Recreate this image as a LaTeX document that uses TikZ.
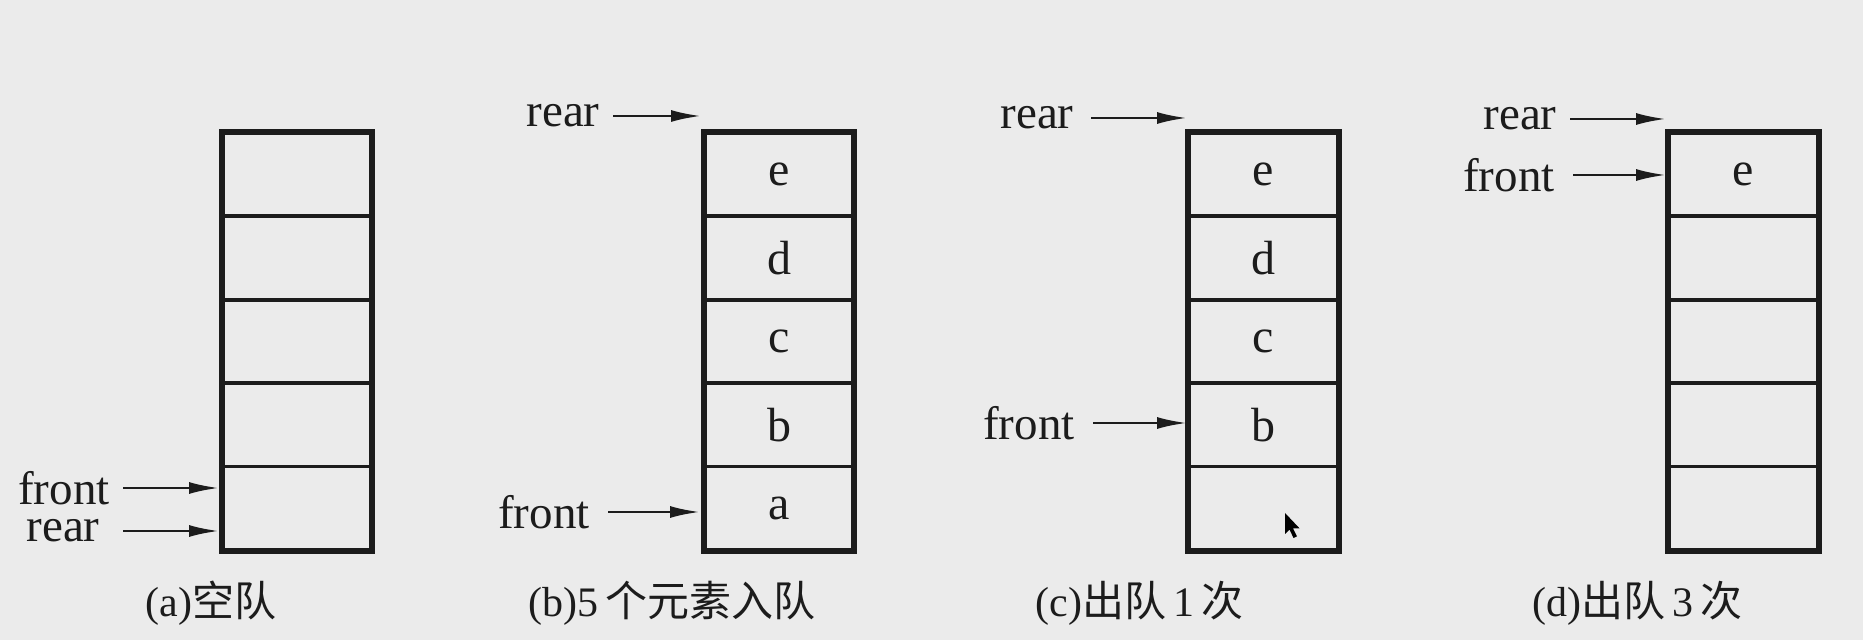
\documentclass[tikz,border=0pt]{standalone}
\usepackage{fontspec}
\setmainfont{Liberation Serif}
\newfontfamily\cjk{Noto Sans CJK SC}
\usetikzlibrary{arrows.meta}
\definecolor{bg}{RGB}{235,235,235}
\definecolor{ink}{RGB}{28,28,28}
\newcommand\qbox[7]{%
  \node[cell] (#1-1) at (#2,174.7) {#3};
  \node[cell] (#1-2) at (#2,258.1) {#4};
  \node[cell] (#1-3) at (#2,341.5) {#5};
  \node[cell] (#1-4) at (#2,424.9) {#6};
  \node[cell] (#1-5) at (#2,508.3) {#7};
  \draw[ink,line width=2.3pt] (#1-1.north west) rectangle (#1-5.south east);
}
\begin{document}
\begin{tikzpicture}[x=0.5pt,y=-0.5pt,
  cell/.style={draw=ink,line width=1.9pt,minimum width=74pt,minimum height=41.7pt,inner sep=0pt,
    font=\fontsize{24}{24}\selectfont,text=ink},
  lab/.style={anchor=east,inner sep=0pt,font=\fontsize{23.5}{23.5}\selectfont,text=ink},
  ptr/.style={draw=ink,line width=1.3pt,-{Latex[length=15pt,width=6pt]}},
  captext/.style={anchor=west,inner sep=0pt,font=\fontsize{21}{21}\selectfont,text=ink}]
\fill[bg] (0,0) rectangle (1863,640);
\useasboundingbox (0,0) rectangle (1863,640);

% (a)
\qbox{a}{297}{}{}{}{}{}
\coordinate (a-ft) at (219,488);
\coordinate (a-rt) at (219,531);
\node[lab] (a-front) at (110,488) {front};
\node[lab] (a-rear) at (100,531) {rear};
\draw[ptr,shorten <=6.5pt] (a-front) -- (a-ft);
\draw[ptr,shorten <=11.5pt] (a-rear) -- (a-rt);
\node[captext] (a-cap) at (145,603) {(a){\cjk 空队}};

% (b)
\qbox{b}{779}{e}{d}{c}{b}{a}
\coordinate (b-rt) at (701,116);
\coordinate (b-ft) at (700,512);
\node[lab] (b-rear) at (600,116) {rear};
\node[lab] (b-front) at (590,512) {front};
\draw[ptr,shorten <=6.5pt] (b-rear) -- (b-rt);
\draw[ptr,shorten <=9pt] (b-front) -- (b-ft);
\node[captext] (b-cap) at (528,603) {(b)5\,{\cjk 个元素入队}};

% (c)
\qbox{c}{1263.5}{e}{d}{c}{b}{}
\coordinate (c-rt) at (1187,118);
\coordinate (c-ft) at (1187,423);
\node[lab] (c-rear) at (1074,118) {rear};
\node[lab] (c-front) at (1075,423) {front};
\draw[ptr,shorten <=8.5pt] (c-rear) -- (c-rt);
\draw[ptr,shorten <=9pt] (c-front) -- (c-ft);
\node[captext] (c-cap) at (1035,603) {(c){\cjk 出队}\,1\,{\cjk 次}};
\fill[black] (1285,513) -- ++(0,21) -- ++(4.5,-4.5) -- ++(4,8.5) -- ++(3.5,-1.7) -- ++(-4,-8) -- ++(6.5,0) -- cycle;

% (d)
\qbox{d}{1743.5}{e}{}{}{}{}
\coordinate (d-rt) at (1666,119);
\coordinate (d-ft) at (1666,175);
\node[lab] (d-rear) at (1557,119) {rear};
\node[lab] (d-front) at (1555,175) {front};
\draw[ptr,shorten <=6.5pt] (d-rear) -- (d-rt);
\draw[ptr,shorten <=9pt] (d-front) -- (d-ft);
\node[captext] (d-cap) at (1532,603) {(d){\cjk 出队}\,3\,{\cjk 次}};
\end{tikzpicture}
\end{document}
